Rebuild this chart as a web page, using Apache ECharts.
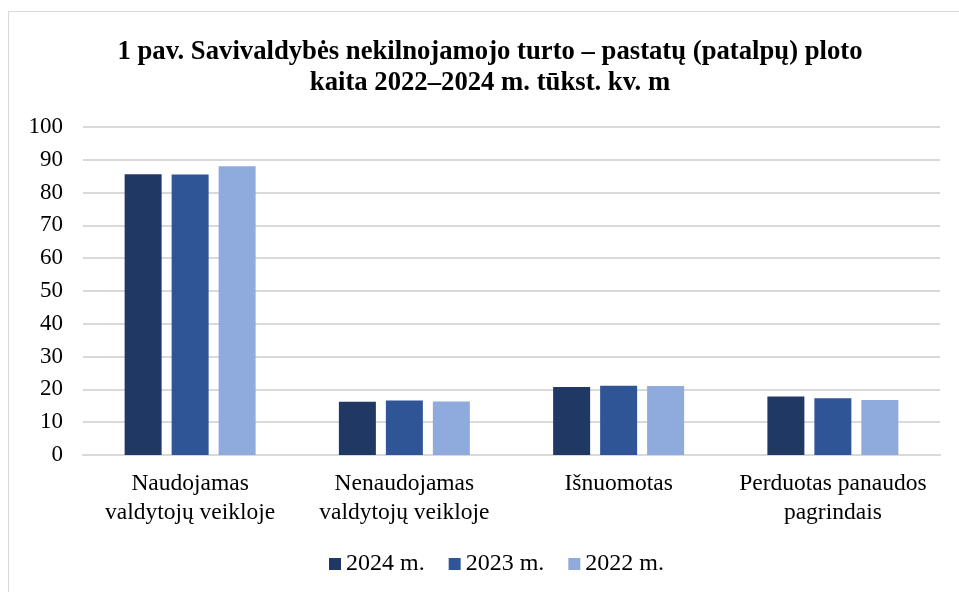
<!DOCTYPE html>
<html>
<head>
<meta charset="utf-8">
<script src="https://cdn.jsdelivr.net/npm/echarts@6/dist/echarts.min.js"></script>
<style>
html, body { margin: 0; padding: 0; background: #fff; }
#chart { width: 959px; height: 592px; }
.frame { position: absolute; left: 8px; top: 11px; width: 980px; height: 600px; border: 1px solid #d9d9d9; pointer-events: none; }
</style>
</head>
<body>
<div id="chart"></div>
<div class="frame"></div>
<script>
const categories = ['Naudojamas\nvaldytojų veikloje', 'Nenaudojamas\nvaldytojų veikloje', 'Išnuomotas', 'Perduotas panaudos\npagrindais']
const seriesNames = ['2024 m.', '2023 m.', '2022 m.']
const values2024 = [85.6, 16.2, 20.7, 17.8]
const values2023 = [85.5, 16.6, 21.1, 17.3]
const values2022 = [88.0, 16.3, 21.0, 16.8]
const colors = ['#203864', '#2f5597', '#8faadc']

const font = 'Liberation Serif, Times New Roman, serif'
const myChart = echarts.init(document.getElementById('chart'))
const data = [values2024, values2023, values2022]
const option = {
  animation: false,
  textStyle: { fontFamily: font },
  title: {
    text: '1 pav. Savivaldybės nekilnojamojo turto – pastatų (patalpų) ploto\nkaita 2022–2024 m. tūkst. kv. m',
    left: 485,
    top: 32,
    textAlign: 'center',
    textStyle: { fontFamily: font, fontSize: 26.7, fontWeight: 'bold', color: '#000', lineHeight: 31 }
  },
  grid: { left: 83, right: 19, top: 127, bottom: 137 },
  legend: {
    top: 547,
    left: 324,
    itemWidth: 12,
    itemHeight: 12,
    itemGap: 24,
    icon: 'rect',
    textStyle: { fontFamily: font, fontSize: 24, color: '#000' },
    data: seriesNames
  },
  xAxis: {
    type: 'category',
    data: categories,
    axisLine: { lineStyle: { color: '#d9d9d9', width: 2 } },
    axisTick: { show: false },
    axisLabel: { interval: 0, fontFamily: font, fontSize: 23.5, color: '#000', margin: 14, lineHeight: 29 }
  },
  yAxis: {
    type: 'value',
    min: 0,
    max: 100,
    interval: 10,
    axisLine: { show: false },
    axisTick: { show: false },
    splitLine: { lineStyle: { color: '#d9d9d9', width: 2 } },
    axisLabel: { fontFamily: font, fontSize: 23, color: '#000', margin: 20 }
  },
  series: seriesNames.map((name, i) => ({
    name: name,
    type: 'bar',
    data: data[i],
    barWidth: 37,
    barGap: '27%',
    itemStyle: { color: colors[i] }
  }))
}
myChart.setOption(option)
</script>
</body>
</html>
